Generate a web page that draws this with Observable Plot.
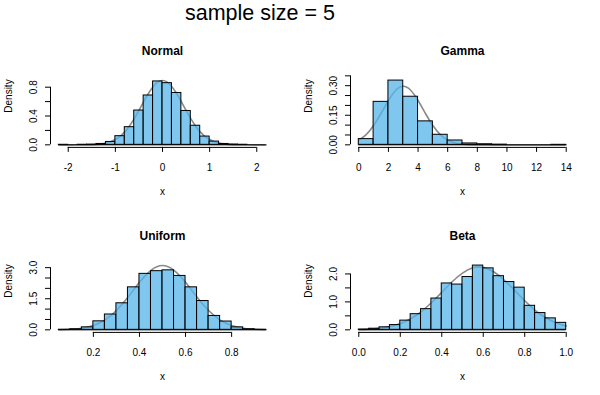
<!DOCTYPE html>
<html><head><meta charset="utf-8">
<script src="https://cdn.jsdelivr.net/npm/d3@7"></script>
<script src="https://cdn.jsdelivr.net/npm/@observablehq/plot@0.6"></script>
<style>
body{margin:0;background:#fff;}
#wrap{position:relative;width:600px;height:395px;font-family:"Liberation Sans",Arial,Helvetica,sans-serif;overflow:hidden;}
#title{position:absolute;left:0;width:520px;top:3px;text-align:center;font-size:21.5px;line-height:1;color:#000;}
.panel{position:absolute;width:300px;height:185px;}
.panel svg{overflow:visible;}
</style></head><body>
<div id="wrap"><div id="title">sample size = 5</div></div>
<script>
// ---------- Normal ----------
const normalBreaks = [-2.2,-2.0,-1.8,-1.6,-1.4,-1.2,-1.0,-0.8,-0.6,-0.4,-0.2,0,0.2,0.4,0.6,0.8,1.0,1.2,1.4,1.6,1.8,2.0,2.2];
const normalDensity = [0.0005,0,0.001,0.003,0.012,0.04,0.12,0.245,0.476,0.685,0.88,0.856,0.72,0.47,0.265,0.115,0.045,0.012,0.004,0.001,0,0];
const normalCurveX = [-2.2,-2.0,-1.8,-1.6,-1.4,-1.3,-1.2,-1.1,-1.0,-0.9,-0.8,-0.7,-0.6,-0.5,-0.4,-0.3,-0.2,-0.1,0,0.1,0.2,0.3,0.4,0.5,0.6,0.7,0.8,0.9,1.0,1.1,1.2,1.3,1.4,1.6,1.8,2.0,2.2];
const normalCurveY = [0,0,0.0003,0.0015,0.0066,0.013,0.024,0.043,0.073,0.118,0.18,0.262,0.363,0.477,0.598,0.712,0.807,0.87,0.892,0.87,0.807,0.712,0.598,0.477,0.363,0.262,0.18,0.118,0.073,0.043,0.024,0.013,0.0066,0.0015,0.0003,0,0];
const normalXTicks = [-2,-1,0,1,2];
const normalXLabels = ["-2","-1","0","1","2"];
const normalYTicks = [0,0.2,0.4,0.6,0.8];
const normalYLabels = ["0.0","","0.4","","0.8"];

// ---------- Gamma ----------
const gammaBreaks = [0,1,2,3,4,5,6,7,8,9,10,11,12,13,14];
const gammaDensity = [0.029,0.218,0.326,0.244,0.119,0.051,0.022,0.007,0.003,0.001,0,0,0,0.0001];
const gammaCurveX = [0,0.5,1,1.5,2,2.5,3,3.5,4,4.5,5,5.5,6,6.5,7,7.5,8,9,10,11,12,13,14];
const gammaCurveY = [0.024,0.052,0.098,0.159,0.225,0.277,0.297,0.277,0.225,0.159,0.098,0.052,0.024,0.0095,0.0033,0.001,0.0003,0,0,0,0,0,0];
const gammaXTicks = [0,2,4,6,8,10,12,14];
const gammaXLabels = ["0","2","4","6","8","10","12","14"];
const gammaYTicks = [0,0.05,0.1,0.15,0.2,0.25,0.3,0.35];
const gammaYLabels = ["0.00","","","0.15","","","0.30",""];

// ---------- Uniform ----------
const uniformBreaks = [0.05,0.1,0.15,0.2,0.25,0.3,0.35,0.4,0.45,0.5,0.55,0.6,0.65,0.7,0.75,0.8,0.85,0.9,0.95];
const uniformDensity = [0.005,0.03,0.12,0.41,0.74,1.28,2.05,2.7,2.83,2.87,2.6,2.05,1.39,0.67,0.4,0.12,0.03,0.005];
const uniformCurveX = [0.05,0.1,0.15,0.2,0.25,0.3,0.35,0.4,0.45,0.5,0.55,0.6,0.65,0.7,0.75,0.8,0.85,0.9,0.95];
const uniformCurveY = [0.007,0.025,0.078,0.21,0.47,0.93,1.57,2.29,2.87,3.1,2.87,2.29,1.57,0.93,0.47,0.21,0.078,0.025,0.007];
const uniformXTicks = [0.2,0.4,0.6,0.8];
const uniformXLabels = ["0.2","0.4","0.6","0.8"];
const uniformYTicks = [0,0.5,1,1.5,2,2.5,3];
const uniformYLabels = ["0.0","","","1.5","","","3.0"];

// ---------- Beta ----------
const betaBreaks = [0,0.05,0.1,0.15,0.2,0.25,0.3,0.35,0.4,0.45,0.5,0.55,0.6,0.65,0.7,0.75,0.8,0.85,0.9,0.95,1.0];
const betaDensity = [0.01,0.04,0.09,0.17,0.33,0.56,0.74,1.12,1.66,1.62,1.89,2.3,2.2,1.92,1.71,1.51,0.86,0.6,0.41,0.25];
const betaCurveX = [0,0.05,0.1,0.15,0.2,0.25,0.3,0.35,0.4,0.45,0.5,0.55,0.6,0.65,0.7,0.75,0.8,0.85,0.9,0.95,1.0];
const betaCurveY = [0.011,0.025,0.057,0.118,0.225,0.396,0.645,0.968,1.34,1.72,2.03,2.22,2.236,2.08,1.79,1.42,1.04,0.7,0.44,0.254,0.135];
const betaXTicks = [0,0.2,0.4,0.6,0.8,1.0];
const betaXLabels = ["0.0","0.2","0.4","0.6","0.8","1.0"];
const betaYTicks = [0,0.5,1,1.5,2];
const betaYLabels = ["0.0","","1.0","","2.0"];

const panels = [
  {title:"Normal", left:0, top:25, breaks:normalBreaks, density:normalDensity, cx:normalCurveX, cy:normalCurveY, xTicks:normalXTicks, xLabels:normalXLabels, yTicks:normalYTicks, yLabels:normalYLabels, ymax:0.892},
  {title:"Gamma", left:300, top:25, breaks:gammaBreaks, density:gammaDensity, cx:gammaCurveX, cy:gammaCurveY, xTicks:gammaXTicks, xLabels:gammaXLabels, yTicks:gammaYTicks, yLabels:gammaYLabels, ymax:0.326},
  {title:"Uniform", left:0, top:210, breaks:uniformBreaks, density:uniformDensity, cx:uniformCurveX, cy:uniformCurveY, xTicks:uniformXTicks, xLabels:uniformXLabels, yTicks:uniformYTicks, yLabels:uniformYLabels, ymax:3.1},
  {title:"Beta", left:300, top:210, breaks:betaBreaks, density:betaDensity, cx:betaCurveX, cy:betaCurveY, xTicks:betaXTicks, xLabels:betaXLabels, yTicks:betaYTicks, yLabels:betaYLabels, ymax:2.3}
];

const FONT = '"Liberation Sans", Arial, Helvetica, sans-serif';

function makePanel(p) {
  const x0 = p.breaks[0], x1 = p.breaks[p.breaks.length - 1];
  const ext = 0.04 * (x1 - x0);
  const xd = [x0 - ext, x1 + ext];
  const yd = [-0.04 * p.ymax, 1.04 * p.ymax];
  const bins = p.density.map((d, i) => ({a: p.breaks[i], b: p.breaks[i + 1], h: d}));
  const curve = p.cx.map((x, i) => ({x, y: p.cy[i]}));
  const yLab = p.yTicks.map((t, i) => ({t, s: p.yLabels[i]})).filter(d => d.s !== "");
  return Plot.plot({
    width: 300, height: 185,
    marginLeft: 50, marginRight: 26, marginTop: 52.5, marginBottom: 63.1,
    x: {domain: xd}, y: {domain: yd},
    style: {fontFamily: FONT, fontSize: "10px", color: "#000", background: "transparent", overflow: "visible"},
    marks: [
      // theoretical curve drawn first, histogram (semi-transparent) over it
      Plot.line(curve, {x: "x", y: "y", stroke: "#8a8a8a", strokeWidth: 1.6, curve: "natural"}),
      Plot.rect(bins, {x1: "a", x2: "b", y1: 0, y2: "h", fill: "#56B4E9", fillOpacity: 0.75, stroke: "#000", strokeWidth: 1, inset: 0}),
      Plot.ruleY([0], {x1: x0, x2: x1, stroke: "#000", strokeWidth: 1}),
      // y axis
      Plot.ruleX([xd[0]], {y1: p.yTicks[0], y2: p.yTicks[p.yTicks.length - 1], stroke: "#000"}),
      Plot.axisY(p.yTicks, {anchor: "left", tickSize: 5, tickFormat: () => "", label: null}),
      Plot.text(yLab, {frameAnchor: "left", y: "t", text: "s", rotate: -90, dx: -17, lineAnchor: "middle", textAnchor: "middle", fontSize: 10}),
      // x axis
      Plot.ruleY([yd[0]], {x1: p.xTicks[0], x2: p.xTicks[p.xTicks.length - 1], stroke: "#000"}),
      Plot.axisX(p.xTicks, {anchor: "bottom", tickSize: 5, tickPadding: 11, tickFormat: d => p.xLabels[p.xTicks.indexOf(d)], label: null, fontSize: 10}),
      // labels
      Plot.text([p.title], {frameAnchor: "top", dy: -26.5, fontWeight: "bold", fontSize: 12, lineAnchor: "middle"}),
      Plot.text(["Density"], {frameAnchor: "left", dx: -41.7, rotate: -90, lineAnchor: "middle", fontSize: 10}),
      Plot.text(["x"], {frameAnchor: "bottom", dy: 44, lineAnchor: "middle", fontSize: 10})
    ]
  });
}

const wrap = document.getElementById("wrap");
for (const p of panels) {
  const div = document.createElement("div");
  div.className = "panel";
  div.style.left = p.left + "px";
  div.style.top = p.top + "px";
  div.appendChild(makePanel(p));
  wrap.appendChild(div);
}
</script>
</body></html>
